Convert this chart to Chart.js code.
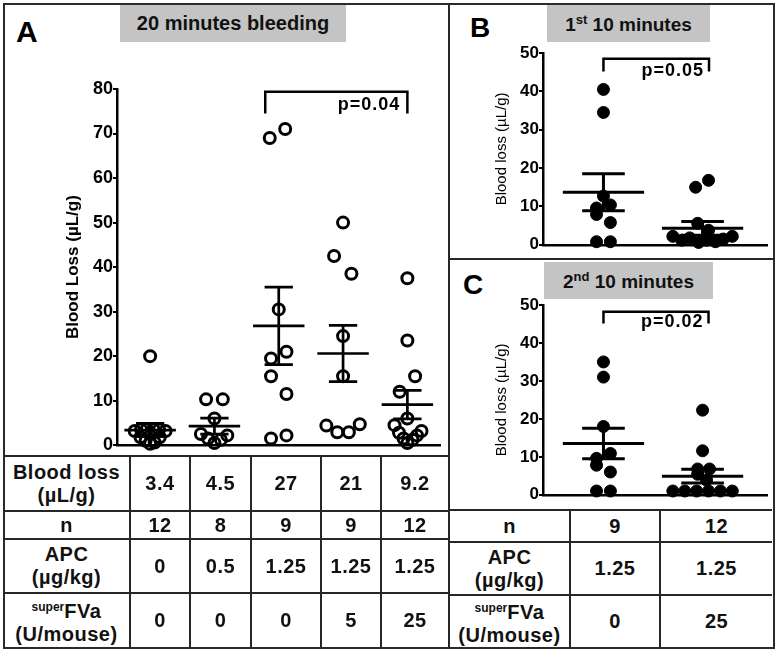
<!DOCTYPE html>
<html>
<head>
<meta charset="utf-8">
<script src="https://cdn.jsdelivr.net/npm/chart.js@4.4.0/dist/chart.umd.min.js"></script>
<style>
  body { margin: 0; background: #fff; font-family: "Liberation Sans", Arial, sans-serif; }
  #fig { position: relative; width: 778px; height: 652px; overflow: hidden; background: #fff; }
  .abs { position: absolute; }
  .line { position: absolute; background: #262626; }
  .tbox { position: absolute; background: #c4c4c4; font-weight: bold; display: flex;
          align-items: center; justify-content: center; color: #111; }
  .tbox sup { font-size: 13px; vertical-align: 7px; }
  .plabel { position: absolute; font-weight: bold; line-height: 1; color: #000; }
  .cell { position: absolute; box-sizing: border-box; border-right: 2px solid #262626;
          border-bottom: 2px solid #262626; display: flex; align-items: center; justify-content: center;
          text-align: center; font-weight: bold; font-size: 20px; letter-spacing: 0.5px; line-height: 23px; color: #111; }
  .cell sup { font-size: 12px; letter-spacing: 0; vertical-align: 7px; }
  canvas { position: absolute; }
</style>
</head>
<body>
<div id="fig">
  <div class="abs" style="left:3px;top:3px;width:768px;height:642px;border:2px solid #2a2a2a;"></div>
  <div class="line" style="left:448px;top:3px;width:2px;height:646px;"></div>
  <div class="line" style="left:449px;top:258px;width:325px;height:2px;"></div>

  <div class="tbox" style="left:120px;top:5px;width:226px;height:37px;font-size:20px;"><span>20 minutes bleeding</span></div>
  <div class="tbox" style="left:547px;top:5px;width:163px;height:37px;font-size:19px;"><span>1<sup>st</sup> 10 minutes</span></div>
  <div class="tbox" style="left:544px;top:262px;width:169px;height:37px;font-size:19px;"><span>2<sup>nd</sup> 10 minutes</span></div>

  <div class="plabel" style="left:16px;top:17px;font-size:30px;">A</div>
  <div class="plabel" style="left:470px;top:14px;font-size:28px;">B</div>
  <div class="plabel" style="left:463px;top:271px;font-size:28px;">C</div>

  <canvas id="chartA" width="445" height="396" style="left:4px;top:60px;"></canvas>
  <canvas id="chartB" width="324" height="220" style="left:450px;top:35px;"></canvas>
  <canvas id="chartC" width="324" height="220" style="left:450px;top:285px;"></canvas>

  <div id="tables"></div>
</div>
<script>
// ---- data ----
// panel A: 20 minutes bleeding, five treatment groups
const valuesA = [
  [20, 3.2, 3.5, 3.6, 3.6, 3.5, 3.2, 1.8, 1.0, 0.3, 0.6, 1.8],
  [10.3, 10.3, 6, 2.5, 1.5, 0.5, 1.2, 2.2],
  [69, 71, 30.5, 21, 19.5, 15.5, 11.5, 1.5, 2.2],
  [50, 42.5, 38.5, 24.5, 15.5, 4.4, 2.9, 2.9, 4.7],
  [37.5, 23.5, 15.5, 12, 6, 4.5, 2.8, 1.5, 0.5, 1.2, 2.2, 3.2]
];
// horizontal scatter of each dot around its group (category units)
const jitterA = [
  [0, -0.24, -0.14, -0.05, 0.05, 0.14, 0.24, -0.15, -0.07, 0, 0.07, 0.15],
  [-0.13, 0.13, 0, -0.21, -0.1, 0, 0.1, 0.2],
  [-0.14, 0.1, 0, 0.12, -0.12, -0.12, 0.12, -0.12, 0.12],
  [0, -0.14, 0.13, 0, 0, -0.26, -0.09, 0.09, 0.26],
  [0, 0, 0.12, -0.12, 0, -0.2, -0.13, -0.06, 0, 0.08, 0.15, 0.22]
];
const meanA = [3.4, 4.3, 26.8, 20.6, 9.1];
const semA = [1.5, 1.8, 8.7, 6.3, 3.2];
const ticksA = [0, 10, 20, 30, 40, 50, 60, 70, 80];

// panel B: 1st 10 minutes
const valuesB = [
  [40.5, 34.5, 12.7, 10.4, 9.6, 7.9, 5.8, 0.8, 0.8],
  [16.8, 15, 5.6, 3.8, 2.2, 1.2, 1.8, 0.6, 1.2, 0.8, 1.5, 2.2]
];
const jitterB = [
  [0, 0, 0, 0.07, -0.07, -0.07, 0.07, -0.07, 0.07],
  [0.06, -0.07, -0.05, 0.06, -0.3, -0.21, -0.13, -0.04, 0.04, 0.13, 0.21, 0.3]
];
const meanB = [13.7, 4.3];
const semB = [4.8, 1.8];

// panel C: 2nd 10 minutes
const valuesC = [
  [35, 31, 18, 10.9, 9.6, 7.8, 6.0, 1.0, 1.0],
  [22.3, 11.6, 6.8, 6.8, 5.4, 3.9, 1.0, 1.0, 1.0, 1.0, 1.0, 1.0]
];
const jitterC = [
  [0, 0, 0, 0.07, -0.07, -0.07, 0.07, -0.07, 0.07],
  [0, 0, -0.05, 0.07, -0.05, 0.04, -0.3, -0.18, -0.06, 0.06, 0.18, 0.3]
];
const meanC = [13.5, 4.9];
const semC = [4.0, 1.8];
const ticksBC = [0, 10, 20, 30, 40, 50];

// tables
const lossRowA = ["3.4", "4.5", "27", "21", "9.2"];
const nRowA = ["12", "8", "9", "9", "12"];
const apcRowA = ["0", "0.5", "1.25", "1.25", "1.25"];
const fvaRowA = ["0", "0", "0", "5", "25"];
const nRowBC = ["9", "12"];
const apcRowBC = ["1.25", "1.25"];
const fvaRowBC = ["0", "25"];

const FONT = '"Liberation Sans", Arial, sans-serif';

function dots(values, jitter) {
  return values.flatMap((vals, i) => vals.map((v, j) => ({ x: i + 1 + jitter[i][j], y: v })));
}

// mean bar plus SEM whiskers, segments split by null points
function semLines(means, sems, half, cap) {
  const pts = [];
  means.forEach((m, i) => {
    const g = i + 1, s = sems[i];
    pts.push({ x: g - half, y: m }, { x: g + half, y: m }, { x: g, y: null });
    pts.push({ x: g, y: m - s }, { x: g, y: m + s }, { x: g, y: null });
    pts.push({ x: g - cap, y: m + s }, { x: g + cap, y: m + s }, { x: g, y: null });
    pts.push({ x: g - cap, y: m - s }, { x: g + cap, y: m - s }, { x: g, y: null });
  });
  return pts;
}

function bracket(x1, x2, yLow, yTop) {
  return [{ x: x1, y: yLow }, { x: x1, y: yTop }, { x: x2, y: yTop }, { x: x2, y: yLow }];
}

const pText = {
  id: 'pText',
  afterDatasetsDraw(chart, args, opts) {
    const { ctx, scales: { x, y } } = chart;
    ctx.save();
    ctx.font = 'bold 18px ' + FONT;
    ctx.letterSpacing = '1px';
    ctx.fillStyle = '#000';
    ctx.textAlign = 'right';
    ctx.textBaseline = 'middle';
    ctx.fillText(opts.text, x.getPixelForValue(opts.x) - opts.gap, y.getPixelForValue(opts.y));
    ctx.restore();
  }
};

function makeChart(id, cfg) {
  return new Chart(document.getElementById(id), {
    type: 'scatter',
    data: {
      datasets: [
        { data: semLines(cfg.mean, cfg.sem, cfg.half, cfg.cap), showLine: true, spanGaps: false,
          borderColor: '#000', borderWidth: cfg.lw, pointRadius: 0, borderCapStyle: 'butt', clip: false },
        { data: cfg.bracket, showLine: true, borderColor: '#000', borderWidth: 2.5,
          pointRadius: 0, borderJoinStyle: 'miter', clip: false },
        { data: dots(cfg.values, cfg.jitter), showLine: false, clip: false,
          pointRadius: cfg.r, pointBorderWidth: cfg.open ? 3 : 1,
          pointBorderColor: '#000', pointBackgroundColor: cfg.open ? 'rgba(0,0,0,0)' : '#000' }
      ]
    },
    options: {
      responsive: false,
      animation: false,
      events: [],
      layout: { padding: cfg.pad },
      plugins: { legend: { display: false }, tooltip: { enabled: false }, pText: cfg.p },
      scales: {
        x: {
          type: 'linear', min: cfg.xmin, max: cfg.xmax,
          ticks: { display: false },
          grid: { display: false },
          border: { display: true, color: '#000', width: 2.5 },
          afterFit: s => { s.height = 0; }
        },
        y: {
          min: 0, max: cfg.ticks[cfg.ticks.length - 1],
          afterBuildTicks: s => { s.ticks = cfg.ticks.map(v => ({ value: v })); },
          ticks: { color: '#000', padding: 0, font: { family: FONT, size: cfg.tickSize, weight: 'bold' } },
          grid: { drawOnChartArea: false, drawTicks: true, tickLength: 4, color: '#000', lineWidth: 2 },
          border: { display: true, color: '#000', width: 2.5 },
          title: { display: true, text: cfg.title, color: '#000', padding: { top: cfg.titlePad, bottom: 0 },
                   font: { family: FONT, size: cfg.titleSize, weight: cfg.titleWeight } },
          afterFit: s => { s.width = cfg.yWidth; }
        }
      }
    },
    plugins: [pText]
  });
}

makeChart('chartA', {
  values: valuesA, jitter: jitterA, mean: meanA, sem: semA, half: 0.4, cap: 0.22, lw: 2.7,
  bracket: bracket(2.79, 5.0, 74.5, 79.4), p: { text: 'p=0.04', x: 5.0, y: 76.3, gap: 7 },
  r: 5.5, open: true, xmin: 0.485, xmax: 5.515, ticks: ticksA, tickSize: 18,
  title: 'Blood Loss (\u00b5L/g)', titleSize: 17, titleWeight: 'bold', titlePad: 59, yWidth: 113,
  pad: { left: 0, right: 0, top: 29, bottom: 6 }
});

makeChart('chartB', {
  values: valuesB, jitter: jitterB, mean: meanB, sem: semB, half: 0.41, cap: 0.215, lw: 3,
  bracket: bracket(1.0, 2.065, 45.2, 48.5), p: { text: 'p=0.05', x: 2.065, y: 45.4, gap: 5 },
  r: 6, open: false, xmin: 0.39, xmax: 2.65, ticks: ticksBC, tickSize: 17,
  title: 'Blood loss (\u00b5L/g)', titleSize: 15, titleWeight: 'normal', titlePad: 43, yWidth: 93,
  pad: { left: 0, right: 1, top: 18, bottom: 5 }
});

makeChart('chartC', {
  values: valuesC, jitter: jitterC, mean: meanC, sem: semC, half: 0.41, cap: 0.215, lw: 3,
  bracket: bracket(1.0, 2.06, 45.1, 48.2), p: { text: 'p=0.02', x: 2.06, y: 45.6, gap: 5 },
  r: 6, open: false, xmin: 0.39, xmax: 2.65, ticks: ticksBC, tickSize: 17,
  title: 'Blood loss (\u00b5L/g)', titleSize: 15, titleWeight: 'normal', titlePad: 43, yWidth: 93,
  pad: { left: 0, right: 1, top: 20, bottom: 7 }
});

// ---- tables under the charts ----
const tables = document.getElementById('tables');
function grid(xs, ys, rows) {
  const top = document.createElement('div');
  top.className = 'line';
  top.style.cssText = `left:${xs[0]}px;top:${ys[0]}px;width:${xs[xs.length - 1] - xs[0]}px;height:2px;`;
  tables.appendChild(top);
  rows.forEach((row, r) => {
    row.forEach((html, c) => {
      const d = document.createElement('div');
      d.className = 'cell';
      d.style.left = xs[c] + 'px';
      d.style.top = (ys[r] + 2) + 'px';
      d.style.width = (xs[c + 1] - xs[c]) + 'px';
      d.style.height = (ys[r + 1] - ys[r]) + 'px';
      if (c === xs.length - 2) d.style.borderRight = 'none';
      if (r === rows.length - 1) d.style.borderBottom = 'none';
      d.innerHTML = html;
      tables.appendChild(d);
    });
  });
}
const fvaHead = '<span><sup>super</sup>FVa<br>(U/mouse)</span>';
grid([4, 131, 191, 252, 322, 382, 448], [455, 510, 538, 592, 645], [
  ['<span>Blood loss<br>(\u00b5L/g)</span>', ...lossRowA],
  ['n', ...nRowA],
  ['<span>APC<br>(\u00b5g/kg)</span>', ...apcRowA],
  [fvaHead, ...fvaRowA]
]);
grid([450, 571, 661, 772], [509, 541, 594, 645], [
  ['n', ...nRowBC],
  ['<span>APC<br>(\u00b5g/kg)</span>', ...apcRowBC],
  [fvaHead, ...fvaRowBC]
]);
</script>
</body>
</html>
